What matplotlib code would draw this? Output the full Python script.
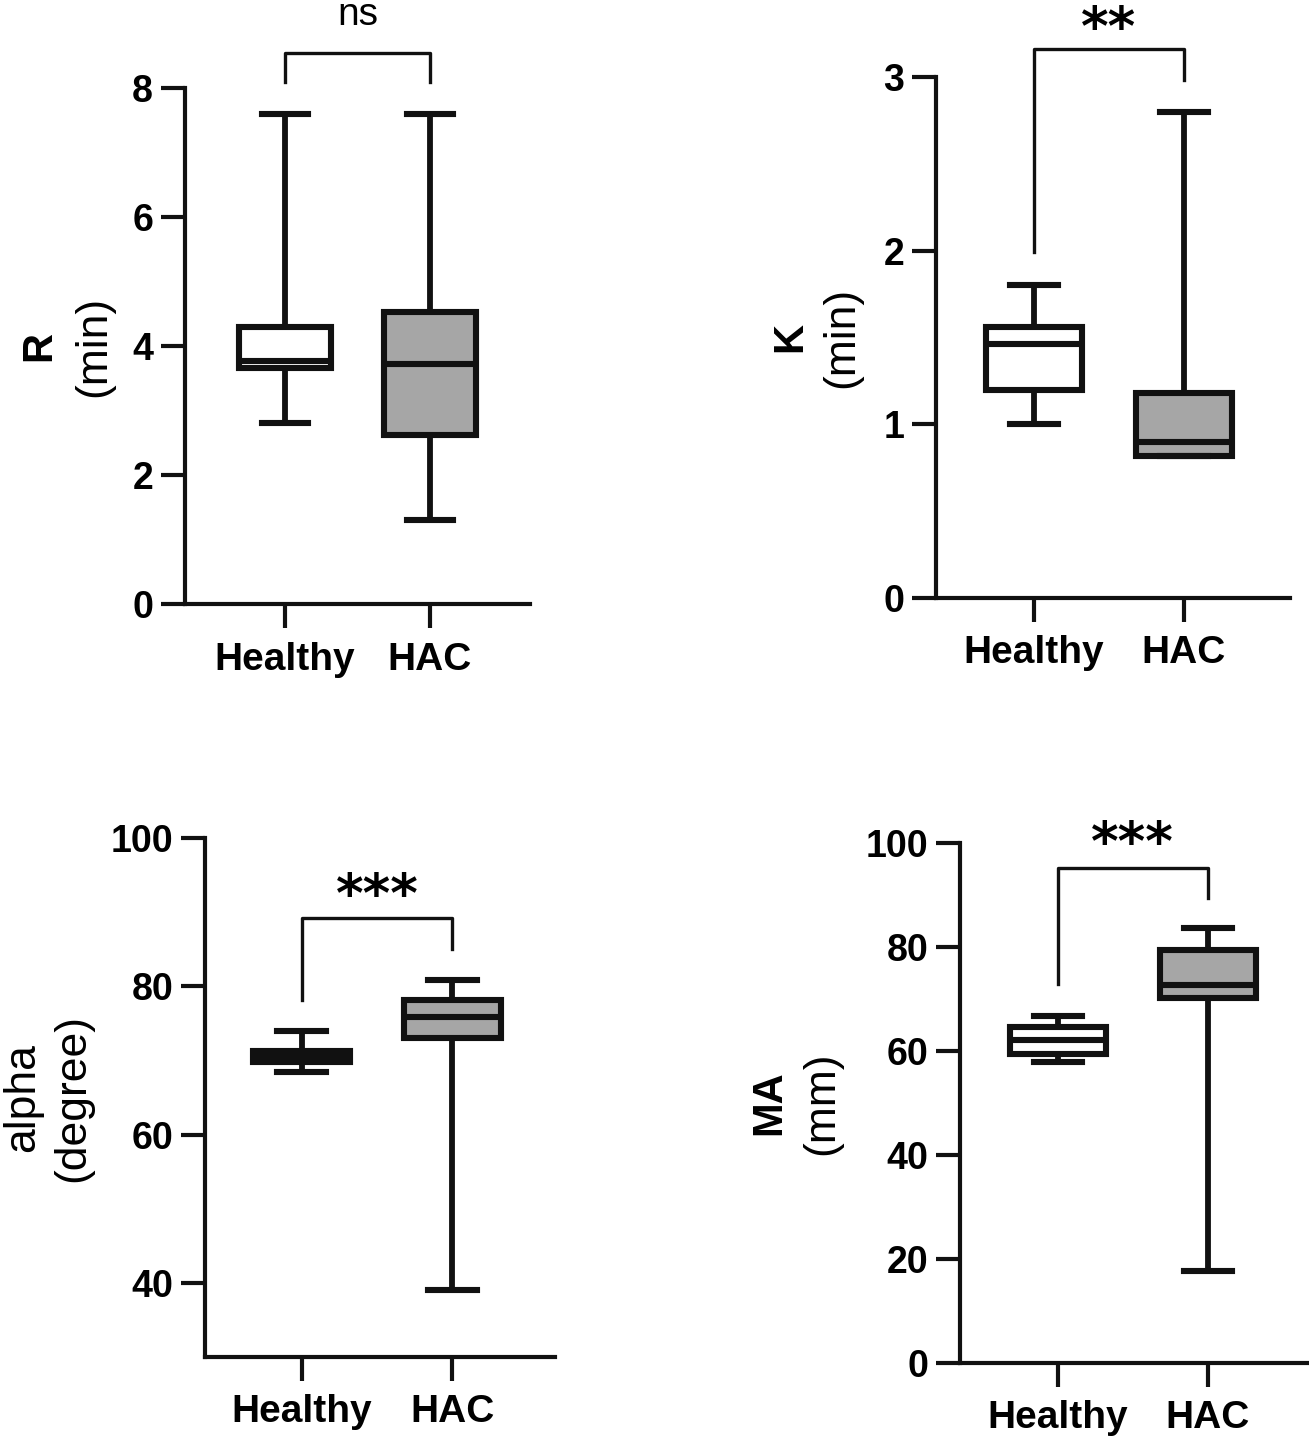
import matplotlib
matplotlib.use('Agg')
import matplotlib.pyplot as plt

plt.rcParams['font.family'] = 'Liberation Sans'

W, H = 1309, 1436

groups = ['Healthy', 'HAC']
fills = ['white', '#a6a6a6']

# five-number summaries per panel: [Healthy, HAC]
r_min = [2.8, 1.3]
r_q1 = [3.66, 2.62]
r_med = [3.76, 3.72]
r_q3 = [4.29, 4.52]
r_max = [7.6, 7.6]

k_min = [1.0, 0.82]
k_q1 = [1.2, 0.82]
k_med = [1.46, 0.9]
k_q3 = [1.56, 1.18]
k_max = [1.8, 2.8]

alpha_min = [68.4, 39.1]
alpha_q1 = [69.8, 73.0]
alpha_med = [70.6, 75.9]
alpha_q3 = [71.3, 78.2]
alpha_max = [74.0, 80.9]

ma_min = [57.8, 17.6]
ma_q1 = [59.4, 70.1]
ma_med = [62.1, 72.6]
ma_q3 = [64.7, 79.5]
ma_max = [66.8, 83.6]

panels = [
    # name, unit, stats, ylim, yticks, bracket (top, left end, right end, text y), sig,
    # axes box px, xlim, label x px, name bold
    ('R', '(min)', (r_min, r_q1, r_med, r_q3, r_max), (0, 8), [0, 2, 4, 6, 8],
     (8.55, 8.1, 8.1, 9.13), 'ns', (185, 88, 530, 604), (0.31, 2.69), (39, 94), True),
    ('K', '(min)', (k_min, k_q1, k_med, k_q3, k_max), (0, 3), [0, 1, 2, 3],
     (3.16, 1.99, 2.98, 3.36), '**', (936, 77, 1290, 598), (0.35, 2.71), (790, 842), True),
    ('alpha', '(degree)', (alpha_min, alpha_q1, alpha_med, alpha_q3, alpha_max), (30, 100),
     [40, 60, 80, 100], (89.2, 78.2, 85.0, 94.1), '***', (205, 838, 555, 1357), (0.36, 2.68),
     (23, 73), False),
    ('MA', '(mm)', (ma_min, ma_q1, ma_med, ma_q3, ma_max), (0, 100), [0, 20, 40, 60, 80, 100],
     (95.2, 72.8, 89.5, 102.6), '***', (960, 843, 1308, 1363), (0.35, 2.67), (769, 822), True),
]

fig = plt.figure(figsize=(W / 100, H / 100), dpi=100)

for name, unit, st, ylim, yticks, br, sig, box, xlim, labx, nbold in panels:
    x0, y0, x1, y1 = box
    ax = fig.add_axes([x0 / W, 1 - y1 / H, (x1 - x0) / W, (y1 - y0) / H])
    lo, q1, med, q3, hi = st
    stats = [dict(whislo=lo[i], q1=q1[i], med=med[i], q3=q3[i], whishi=hi[i], fliers=[])
             for i in range(2)]
    bp = ax.bxp(stats, positions=[1, 2], widths=0.64, patch_artist=True,
                showfliers=False,
                boxprops=dict(linewidth=4.4, edgecolor='#111111'),
                medianprops=dict(linewidth=4.4, color='#111111'),
                whiskerprops=dict(linewidth=4.2, color='#111111'),
                capprops=dict(linewidth=4.4, color='#111111'),
                capwidths=0.32)
    for patch, c in zip(bp['boxes'], fills):
        patch.set_facecolor(c)

    ax.set_xlim(*xlim)
    ax.set_ylim(*ylim)
    ax.set_yticks(yticks)
    ax.set_xticks([1, 2])
    ax.set_xticklabels(groups)
    for s in ['top', 'right']:
        ax.spines[s].set_visible(False)
    for s in ['left', 'bottom']:
        ax.spines[s].set_linewidth(3)
        ax.spines[s].set_color('#111111')
    ax.tick_params(length=17, width=3, color='#111111', labelsize=27, pad=6)
    ax.tick_params(axis='x', labelsize=28, pad=10)
    for t in ax.get_xticklabels() + ax.get_yticklabels():
        t.set_fontweight('bold')

    top, le, re, ty = br
    ax.plot([1, 1, 2, 2], [le, top, top, re], color='#111111', lw=2.4, clip_on=False)
    if sig == 'ns':
        ax.annotate(sig, (1.5, ty), xytext=(0, -0.26 * 28), textcoords='offset points',
                    ha='center', va='baseline', fontsize=28, annotation_clip=False)
    else:
        ax.annotate(sig, (1.5, ty), xytext=(0, -0.57 * 38), textcoords='offset points',
                    ha='center', va='baseline', fontsize=38, fontweight='bold',
                    family='DejaVu Sans', annotation_clip=False)

    yc = 1 - ((y0 + y1) / 2) / H
    fig.text(labx[0] / W, yc, name, rotation=90, ha='center', va='center',
             fontsize=30 if nbold else 32, fontweight='bold' if nbold else 'normal')
    fig.text(labx[1] / W, yc, unit, rotation=90, ha='center', va='center', fontsize=32)

fig.savefig('out.png', dpi=100)
